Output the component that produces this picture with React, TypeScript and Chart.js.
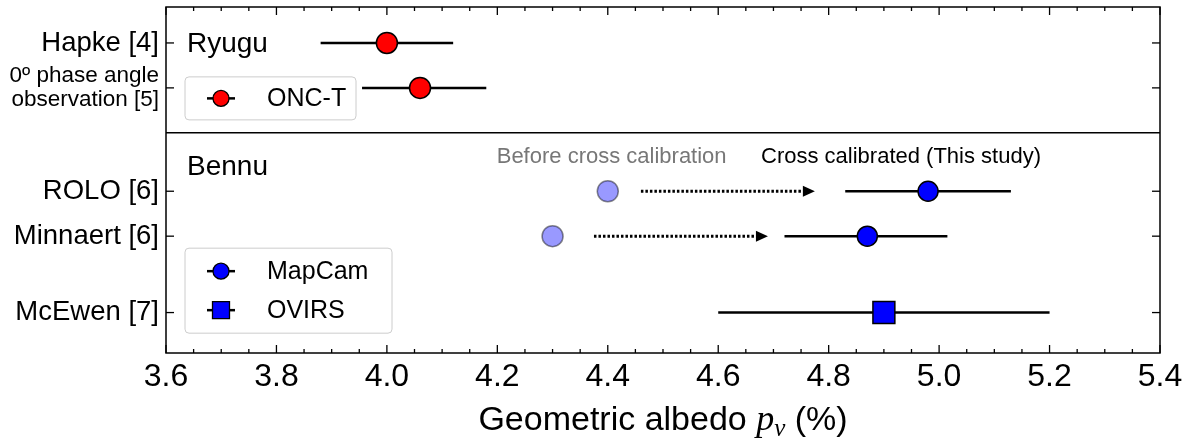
import React, { useEffect, useRef } from 'react';
import { Chart, registerables } from 'chart.js';

Chart.register(...registerables);

// Row labels on the y axis and where each row sits (bottom row = 0)
const rowLabels: (string | string[])[] = [
  'McEwen [7]',
  'Minnaert [6]',
  'ROLO [6]',
  ['0º phase angle', 'observation [5]'],
  'Hapke [4]',
];
const rowPositions = [0, 1.7, 2.7, 5, 6];
const sectionDivider = 4;

// Ryugu (ONC-T)
const ryuguRows = [6, 5];
const ryuguAlbedo = [4.0, 4.06];
const ryuguLow = [3.88, 3.955];
const ryuguHigh = [4.12, 4.18];

// Bennu (MapCam): before and after cross calibration
const bennuRows = [2.7, 1.7];
const beforeAlbedo = [4.4, 4.3];
const mapcamAlbedo = [4.98, 4.87];
const mapcamLow = [4.83, 4.72];
const mapcamHigh = [5.13, 5.015];
const arrowFrom = [4.46, 4.375];
const arrowTo = [4.775, 4.69];

// Bennu (OVIRS)
const ovirsRows = [0];
const ovirsAlbedo = [4.9];
const ovirsLow = [4.6];
const ovirsHigh = [5.2];

// Axis ranges and ticks
const xMin = 3.6;
const xMax = 5.4;
const yMin = -0.9;
const yMax = 6.8;
const xMajorTicks = [3.6, 3.8, 4.0, 4.2, 4.4, 4.6, 4.8, 5.0, 5.2, 5.4];
const xMinorStep = 0.05;

const SANS = '"Liberation Sans", Arial, Helvetica, sans-serif';
const SERIF = '"Liberation Serif", "Times New Roman", serif';

const RED = '#ff0000';
const BLUE = '#0000ff';
const PALE_BLUE = '#9999ff';

function hline(ctx: CanvasRenderingContext2D, x0: number, x1: number, y: number) {
  ctx.beginPath();
  ctx.moveTo(x0, y);
  ctx.lineTo(x1, y);
  ctx.stroke();
}

function roundRect(ctx: CanvasRenderingContext2D, x: number, y: number, w: number, h: number, r: number) {
  ctx.beginPath();
  ctx.moveTo(x + r, y);
  ctx.lineTo(x + w - r, y);
  ctx.quadraticCurveTo(x + w, y, x + w, y + r);
  ctx.lineTo(x + w, y + h - r);
  ctx.quadraticCurveTo(x + w, y + h, x + w - r, y + h);
  ctx.lineTo(x + r, y + h);
  ctx.quadraticCurveTo(x, y + h, x, y + h - r);
  ctx.lineTo(x, y + r);
  ctx.quadraticCurveTo(x, y, x + r, y);
  ctx.closePath();
}

type LegendEntry = { label: string; shape: 'circle' | 'square'; color: string };

function drawLegend(
  ctx: CanvasRenderingContext2D,
  x: number,
  y: number,
  w: number,
  h: number,
  entries: LegendEntry[],
  rowGap: number
) {
  ctx.save();
  roundRect(ctx, x, y, w, h, 4);
  ctx.fillStyle = 'rgba(255,255,255,0.8)';
  ctx.fill();
  ctx.strokeStyle = '#cccccc';
  ctx.lineWidth = 1;
  ctx.stroke();
  const firstY = y + h / 2 - ((entries.length - 1) * rowGap) / 2;
  entries.forEach((e, i) => {
    const cy = firstY + i * rowGap;
    const cx = x + 36;
    ctx.strokeStyle = '#000';
    ctx.lineWidth = 2.5;
    hline(ctx, cx - 14, cx + 14, cy);
    ctx.fillStyle = e.color;
    ctx.lineWidth = 1.3;
    ctx.beginPath();
    if (e.shape === 'circle') {
      ctx.arc(cx, cy, 8, 0, Math.PI * 2);
    } else {
      ctx.rect(cx - 8.5, cy - 8.5, 17, 17);
    }
    ctx.fill();
    ctx.stroke();
    ctx.fillStyle = '#000';
    ctx.font = `25px ${SANS}`;
    ctx.textAlign = 'left';
    ctx.textBaseline = 'middle';
    ctx.fillText(e.label, x + 82, cy + 1);
  });
  ctx.restore();
}

const decorations = {
  id: 'decorations',
  beforeDatasetsDraw(chart: any) {
    const { ctx, chartArea } = chart;
    const xs = chart.scales.x;
    const ys = chart.scales.y;
    ctx.save();
    ctx.strokeStyle = '#000';

    // Ryugu / Bennu divider
    ctx.lineWidth = 1.5;
    hline(ctx, chartArea.left, chartArea.right, ys.getPixelForValue(sectionDivider));

    // Error bars
    ctx.lineWidth = 2.5;
    const groups: [number[], number[], number[]][] = [
      [ryuguRows, ryuguLow, ryuguHigh],
      [bennuRows, mapcamLow, mapcamHigh],
      [ovirsRows, ovirsLow, ovirsHigh],
    ];
    groups.forEach(([rows, lo, hi]) => {
      rows.forEach((r, i) => {
        hline(ctx, xs.getPixelForValue(lo[i]), xs.getPixelForValue(hi[i]), ys.getPixelForValue(r));
      });
    });

    // Dotted arrows from pre-calibration values to the calibrated values
    bennuRows.forEach((r, i) => {
      const py = ys.getPixelForValue(r);
      const x0 = xs.getPixelForValue(arrowFrom[i]);
      const x1 = xs.getPixelForValue(arrowTo[i]);
      const head = 12;
      ctx.lineWidth = 3;
      ctx.setLineDash([2.5, 2]);
      hline(ctx, x0, x1 - head, py);
      ctx.setLineDash([]);
      ctx.fillStyle = '#000';
      ctx.beginPath();
      ctx.moveTo(x1, py);
      ctx.lineTo(x1 - head, py - 5.5);
      ctx.lineTo(x1 - head, py + 5.5);
      ctx.closePath();
      ctx.fill();
    });
    ctx.restore();
  },
  afterDatasetsDraw(chart: any) {
    const { ctx, chartArea } = chart;
    const xs = chart.scales.x;
    const ys = chart.scales.y;
    const { left, right, top, bottom } = chartArea;
    ctx.save();

    // Section names
    ctx.fillStyle = '#000';
    ctx.font = `28px ${SANS}`;
    ctx.textAlign = 'left';
    ctx.textBaseline = 'middle';
    ctx.fillText('Ryugu', left + 21, ys.getPixelForValue(6) + 1);
    ctx.fillText('Bennu', left + 21, ys.getPixelForValue(sectionDivider) + 34);

    // Column captions above the Bennu rows
    ctx.font = `22px ${SANS}`;
    ctx.textAlign = 'center';
    ctx.textBaseline = 'alphabetic';
    const capY = ys.getPixelForValue(sectionDivider) + 30;
    ctx.fillStyle = '#777777';
    ctx.fillText('Before cross calibration', xs.getPixelForValue(4.407), capY);
    ctx.fillStyle = '#000';
    ctx.fillText('Cross calibrated (This study)', xs.getPixelForValue(4.931), capY);

    // Legends
    drawLegend(ctx, left + 19, ys.getPixelForValue(5) - 11, 171, 43, [
      { label: 'ONC-T', shape: 'circle', color: RED },
    ], 0);
    drawLegend(ctx, left + 19, ys.getPixelForValue(1.7) + 12, 207, 85, [
      { label: 'MapCam', shape: 'circle', color: BLUE },
      { label: 'OVIRS', shape: 'square', color: BLUE },
    ], 39);

    // Frame
    ctx.strokeStyle = '#000';
    ctx.lineWidth = 1.5;
    ctx.strokeRect(left, top, right - left, bottom - top);

    // Inward tick marks on all four sides
    ctx.lineWidth = 1.3;
    const vt = (px: number, len: number) => {
      ctx.beginPath();
      ctx.moveTo(px, bottom);
      ctx.lineTo(px, bottom - len);
      ctx.moveTo(px, top);
      ctx.lineTo(px, top + len);
      ctx.stroke();
    };
    xMajorTicks.forEach((v) => vt(xs.getPixelForValue(v), 8));
    for (let v = xMin + xMinorStep; v < xMax - 1e-9; v += xMinorStep) {
      const isMajor = xMajorTicks.some((m) => Math.abs(m - v) < 1e-6);
      if (!isMajor) vt(xs.getPixelForValue(v), 4);
    }
    rowPositions.forEach((r) => {
      const py = ys.getPixelForValue(r);
      hline(ctx, left, left + 8, py);
      hline(ctx, right - 8, right, py);
    });

    // X axis title with italic p and subscript v
    const parts = [
      { t: 'Geometric albedo ', f: `34px ${SANS}`, dy: 0 },
      { t: 'p', f: `italic 36px ${SERIF}`, dy: 0 },
      { t: 'v', f: `italic 25px ${SERIF}`, dy: 6 },
      { t: ' (%)', f: `34px ${SANS}`, dy: 0 },
    ];
    let total = 0;
    parts.forEach((p) => {
      ctx.font = p.f;
      total += ctx.measureText(p.t).width;
    });
    let cx = (left + right) / 2 - total / 2;
    const baseY = 430;
    ctx.fillStyle = '#000';
    ctx.textAlign = 'left';
    ctx.textBaseline = 'alphabetic';
    parts.forEach((p) => {
      ctx.font = p.f;
      ctx.fillText(p.t, cx, baseY + p.dy);
      cx += ctx.measureText(p.t).width;
    });
    ctx.restore();
  },
};

export default function App() {
  const canvasRef = useRef<HTMLCanvasElement | null>(null);

  useEffect(() => {
    document.body.style.margin = '0';
    const canvas = canvasRef.current;
    if (!canvas) return;

    const toPoints = (xsArr: number[], rows: number[]) => xsArr.map((v, i) => ({ x: v, y: rows[i] }));

    const chart = new Chart(canvas, {
      type: 'scatter',
      data: {
        datasets: [
          {
            label: 'Before cross calibration',
            data: toPoints(beforeAlbedo, bennuRows),
            pointStyle: 'circle',
            pointRadius: 10.5,
            backgroundColor: PALE_BLUE,
            borderColor: 'rgba(0,0,0,0.45)',
            pointBorderWidth: 1.5,
          },
          {
            label: 'ONC-T',
            data: toPoints(ryuguAlbedo, ryuguRows),
            pointStyle: 'circle',
            pointRadius: 10.5,
            backgroundColor: RED,
            borderColor: '#000',
            pointBorderWidth: 1.5,
          },
          {
            label: 'MapCam',
            data: toPoints(mapcamAlbedo, bennuRows),
            pointStyle: 'circle',
            pointRadius: 10,
            backgroundColor: BLUE,
            borderColor: '#000',
            pointBorderWidth: 1.5,
          },
          {
            label: 'OVIRS',
            data: toPoints(ovirsAlbedo, ovirsRows),
            pointStyle: 'rect',
            pointRadius: 15.5,
            backgroundColor: BLUE,
            borderColor: '#000',
            pointBorderWidth: 1.5,
          },
        ],
      },
      options: {
        responsive: false,
        animation: false,
        devicePixelRatio: 1,
        layout: { autoPadding: false, padding: { top: 7, right: 36, left: 0, bottom: 0 } },
        plugins: {
          legend: { display: false },
          tooltip: { enabled: false },
        },
        scales: {
          x: {
            type: 'linear',
            min: xMin,
            max: xMax,
            grid: { display: false, drawTicks: false },
            border: { display: false },
            afterBuildTicks: (scale: any) => {
              scale.ticks = xMajorTicks.map((v) => ({ value: v }));
            },
            afterFit: (scale: any) => {
              scale.height = 87;
              scale.paddingLeft = 0;
              scale.paddingRight = 0;
            },
            ticks: {
              color: '#000',
              padding: 5,
              maxRotation: 0,
              autoSkip: false,
              font: { family: SANS, size: 32 },
              callback: (v: any) => Number(v).toFixed(1),
            },
          },
          y: {
            type: 'linear',
            min: yMin,
            max: yMax,
            grid: { display: false, drawTicks: false },
            border: { display: false },
            afterBuildTicks: (scale: any) => {
              scale.ticks = rowPositions.map((v) => ({ value: v }));
            },
            afterFit: (scale: any) => {
              scale.width = 166;
              scale.paddingTop = 0;
              scale.paddingBottom = 0;
            },
            ticks: {
              color: '#000',
              padding: 7,
              autoSkip: false,
              font: (c: any) =>
                c.tick && Math.abs(c.tick.value - 5) < 1e-6
                  ? { family: SANS, size: 22.5, lineHeight: 1.1 }
                  : { family: SANS, size: 27.5 },
              callback: (v: any) => {
                const i = rowPositions.findIndex((p) => Math.abs(p - Number(v)) < 1e-6);
                return i >= 0 ? rowLabels[i] : '';
              },
            },
          },
        },
      },
      plugins: [decorations],
    } as any);

    return () => chart.destroy();
  }, []);

  return (
    <div style={{ width: 1196, height: 440 }}>
      <canvas ref={canvasRef} width={1196} height={440} style={{ width: 1196, height: 440, display: 'block' }} />
    </div>
  );
}
